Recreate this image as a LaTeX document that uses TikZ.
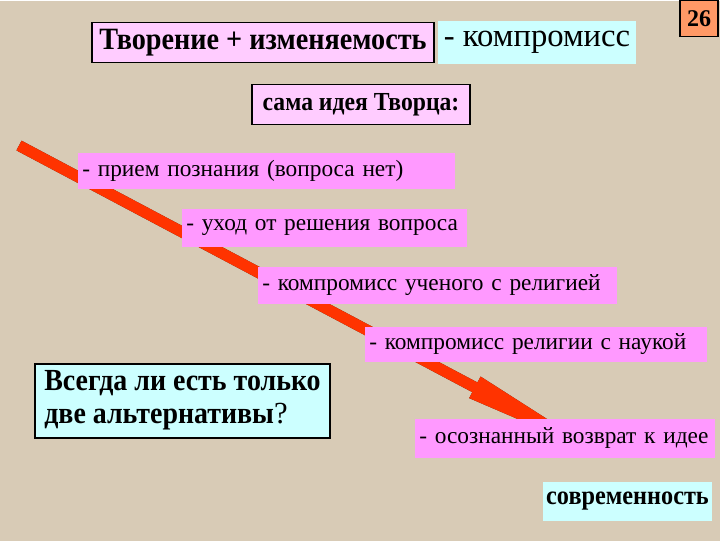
\documentclass[tikz,border=0pt]{standalone}
\usepackage{fontspec}
\setmainfont{Liberation Serif}
\newfontfamily\condbold{Liberation Serif Bold}[FakeStretch=0.91]
\usetikzlibrary{arrows.meta}

\definecolor{slidebg}{RGB}{216,203,182}
\definecolor{lightpink}{RGB}{255,204,255}
\definecolor{stagepink}{RGB}{255,153,255}
\definecolor{lightcyan}{RGB}{204,255,255}
\definecolor{pageorange}{RGB}{255,153,102}
\definecolor{arrowred}{RGB}{255,51,0}
\definecolor{arrowshade}{RGB}{70,30,20}

\tikzset{
  titlebox/.style={fill=lightpink,draw=black,line width=0.8pt,inner sep=0pt},
  cyanbox/.style={fill=lightcyan,inner sep=0pt},
  stagebox/.style={fill=stagepink,anchor=north west,inner xsep=3pt,inner ysep=0pt,
    align=left,font=\fontsize{17.5}{19}\selectfont},
  bigarrow/.style={line width=8.25pt,-{Triangle[length=130pt,width=15.75pt]}}
}

\begin{document}
\begin{tikzpicture}[x=0.75pt,y=-0.75pt]
            \fill[slidebg] (0,0) rectangle (720,540);

            % the long arrow
            \coordinate (tail) at (19,145);
            \coordinate (tip) at (628,468);
            \begin{scope}[shift={(1.5,2.5)}]
            \draw[bigarrow,arrowshade] (tail) -- (tip);
            \end{scope}
            \draw[bigarrow,arrowred] (tail) -- (tip);

            % top line
            \node[titlebox,minimum width=256.5pt,minimum height=30pt,
              font=\fontsize{23.25}{26}\selectfont\condbold] (creation) at (263,42) {Творение + изменяемость};
            \node[cyanbox,minimum width=148.5pt,minimum height=32.25pt,
              font=\fontsize{24.5}{26}\selectfont] (compromise) at (537,41.5) {- компромисс};
            \node[fill=pageorange,draw=black,line width=0.8pt,minimum width=28.5pt,minimum height=27pt,
              inner sep=0pt,font=\fontsize{18}{20}\selectfont\bfseries] (pagenum) at (699,18) {26};

            \node[titlebox,minimum width=163.5pt,minimum height=30pt,
              font=\fontsize{19.5}{22}\selectfont\condbold] (idea) at (361,104) {сама идея Творца:};

            % stages along the arrow
            \node[stagebox,text width=276.75pt,minimum height=27pt] (stage1) at (78,152) {- прием познания (вопроса нет)};
            \node[stagebox,text width=207.75pt,minimum height=28.5pt] (stage2) at (182,208) {- уход от решения вопроса};
            \node[stagebox,text width=263.25pt,minimum height=27.75pt] (stage3) at (258,266) {- компромисс ученого с религией};
            \node[stagebox,text width=250.5pt,minimum height=26.25pt] (stage4) at (365,326) {- компромисс религии с наукой};
            \node[stagebox,text width=219pt,minimum height=29.25pt] (stage5) at (415,418) {- осознанный возврат к идее};

            \node[cyanbox,minimum width=126.75pt,minimum height=29.25pt,
              font=\fontsize{20}{22}\selectfont\condbold] (today) at (627.5,500.5) {современность};

            % the question
            \node[fill=lightcyan,draw=black,line width=1.5pt,minimum width=221.25pt,minimum height=55.5pt,
              inner xsep=3pt,align=left,font=\fontsize{23}{24.75}\selectfont] (question) at (182.5,400)
              {{\condbold Всегда ли есть только}\\{\condbold две альтернативы}?};
        \end{tikzpicture}
\end{document}
